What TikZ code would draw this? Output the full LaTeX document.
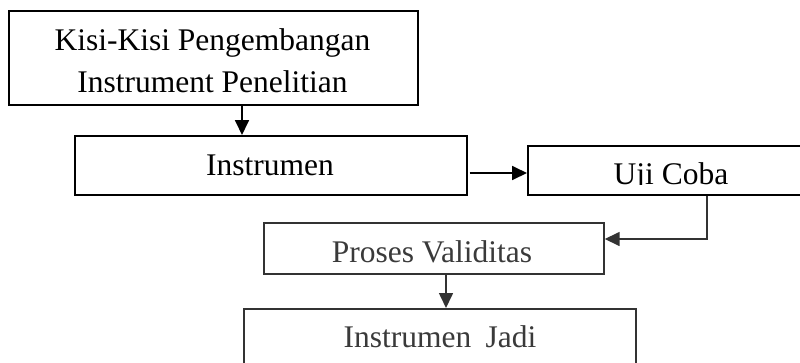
\documentclass[tikz,border=0pt]{standalone}
\usepackage{fontspec}
\setmainfont{Liberation Serif}
\usetikzlibrary{arrows.meta}
\definecolor{dk}{HTML}{333333}
\definecolor{txtg}{HTML}{3A3A3A}
\begin{document}
\begin{tikzpicture}[x=1pt,y=-1pt,
  box/.style={draw, rectangle, inner sep=0pt, anchor=north west, line width=1.7pt},
  boxg/.style={box, draw=dk},
  txt/.style={inner sep=0pt, anchor=base, font=\fontsize{31.5}{36}\selectfont},
  arr/.style={line width=1.8pt, -{Triangle[length=15pt,width=14pt]}},
  arrg/.style={arr, draw=dk, line width=1.6pt}]
\useasboundingbox (0,0) rectangle (800,362);
\clip (0,0) rectangle (800,362);
% boxes
\node[box, line width=2.2pt, minimum width=409pt, minimum height=94pt] (k) at (8,10) {};
\node[box, minimum width=392pt, minimum height=59pt] (i) at (74,135) {};
\node[box, minimum width=303pt, minimum height=49pt] (u) at (527,145) {};
\node[boxg, minimum width=340pt, minimum height=51pt] (p) at (263,222) {};
\node[boxg, minimum width=392pt, minimum height=80pt] (j) at (243,308) {};
% texts
\node[txt] (t1) at (212.5,50) {Kisi-Kisi Pengembangan};
\node[txt] (t2) at (212.5,92) {Instrument Penelitian};
\node[txt] (t3) at (270,175) {Instrumen};
\begin{scope}
  \clip (527,146) rectangle (800,184.5);
  \node[txt] (t4) at (671,184) {Uji Coba};
\end{scope}
\node[txt, text=txtg] (t5) at (432,262) {Proses Validitas};
\node[txt, text=txtg] (t6) at (440,347) {Instrumen\hspace{0.45em}Jadi};
% connectors
\coordinate (c1) at (242,0);
\coordinate (c2) at (0,173);
\coordinate (c3) at (707,239);
\coordinate (c4) at (446,0);
\draw[arr] (k.south -| c1) -- (i.north -| c1);
\draw[arr] ([xshift=2pt]i.east |- c2) -- (u.west |- c2);
\draw[arrg] (u.south -| c3) |- (p.east |- c3);
\draw[arrg] (p.south -| c4) -- (j.north -| c4);
\end{tikzpicture}
\end{document}
